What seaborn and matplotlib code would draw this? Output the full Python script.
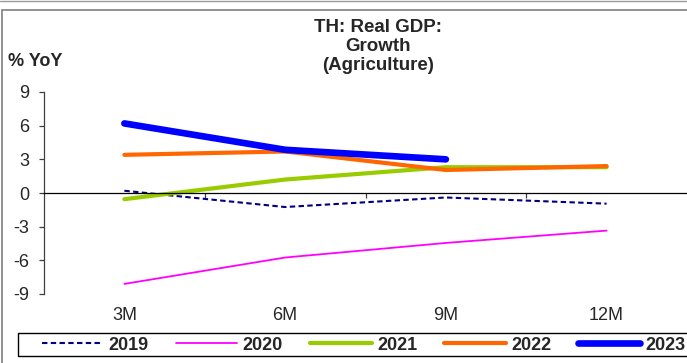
import numpy as np
import pandas as pd
import seaborn as sns
import matplotlib.pyplot as plt
from matplotlib.patches import Rectangle
from matplotlib.lines import Line2D
import matplotlib.transforms as mtransforms

# data
periods = ["3M", "6M", "9M", "12M"]
years = ["2019", "2020", "2021", "2022", "2023"]
g2019 = [0.2, -1.25, -0.4, -0.95]
g2020 = [-8.1, -5.75, -4.45, -3.35]
g2021 = [-0.55, 1.2, 2.3, 2.3]
g2022 = [3.4, 3.7, 2.05, 2.4]
g2023 = [6.2, 3.85, 3.0]
y_ticks = [-9, -6, -3, 0, 3, 6, 9]

series = [g2019, g2020, g2021, g2022, g2023]
colors = ["#000080", "#FF00FF", "#99CC00", "#FF6600", "#0000FF"]
widths = [1.5, 1.3, 3.0, 3.0, 4.8]
styles = [(0, (2.6, 1.6)), "-", "-", "-", "-"]

sns.set_style("white")
plt.rcParams["font.family"] = ["Liberation Sans", "DejaVu Sans"]

W, H = 687, 363
fig = plt.figure(figsize=(W / 100, H / 100), dpi=100)
ax = fig.add_axes([44 / W, 1 - 294 / H, (W - 44) / W, (294 - 92) / H])

# one line per year
for yr, vals, c, lw, ls in zip(years, series, colors, widths, styles):
    df = pd.DataFrame({"x": np.arange(len(vals)), "y": vals})
    sns.lineplot(data=df, x="x", y="y", ax=ax, color=c, linewidth=lw,
                 linestyle=ls, legend=False, solid_capstyle="round",
                 dash_capstyle="butt")

ax.set_xlim(-0.5, len(periods) - 0.5)
ax.set_ylim(-9, 9)
ax.set_yticks(y_ticks)
ax.set_yticklabels([str(t) for t in y_ticks])
ax.set_xlabel("")
ax.set_ylabel("")

# category axis sits on zero, ticks between categories
ax.spines["bottom"].set_position(("data", 0))
ax.spines["bottom"].set_color("black")
ax.spines["bottom"].set_linewidth(0.9)
ax.spines["left"].set_color("#404040")
ax.spines["left"].set_linewidth(0.9)
ax.spines["top"].set_visible(False)
ax.spines["right"].set_visible(False)
ax.set_xticks(np.arange(len(periods) - 1) + 0.5)
ax.set_xticklabels([])
ax.tick_params(axis="x", bottom=True, direction="out", length=3.6,
               width=0.9, color="#404040")
ax.tick_params(axis="y", left=True, direction="out", length=3.6, width=0.9,
               color="#404040", labelsize=13, pad=7)
ax.grid(False)

# category labels at the bottom of the plot area
trans = mtransforms.blended_transform_factory(ax.transData, ax.transAxes)
for i, p in enumerate(periods):
    ax.text(i, -(316 - 294) / (294 - 92), p, transform=trans, ha="center",
            va="center", fontsize=13)

fig.text(378 / W, 1 - 46.5 / H, "TH: Real GDP:\nGrowth\n(Agriculture)",
         ha="center", va="center", fontsize=13.5, fontweight="bold",
         linespacing=1.18)
fig.text(8 / W, 1 - 62 / H, "% YoY", ha="left", va="center", fontsize=13,
         fontweight="bold")

# legend box along the bottom
fig.patches.append(Rectangle((17.5 / W, 1 - 356 / H), (720 - 17.5) / W, 23 / H,
                             transform=fig.transFigure, fill=False,
                             edgecolor="black", linewidth=1.0))
handles = [Line2D([], [], color=c, linewidth=lw, linestyle=ls,
                  solid_capstyle="round")
           for c, lw, ls in zip(colors, widths, styles)]
fig.legend(handles, years, loc="center left", ncol=5,
           bbox_to_anchor=(42 / W, 1 - 345 / H), frameon=False,
           borderpad=0, borderaxespad=0, handlelength=3.4,
           handletextpad=0.3, columnspacing=1.5,
           prop={"size": 13, "weight": "bold"})

# outer frame of the chart object
fig.patches.append(Rectangle((1.5 / W, -0.1), 1.2, 1 - 9.5 / H + 0.1,
                             transform=fig.transFigure, fill=False,
                             edgecolor="#7f7f7f", linewidth=1.2))
fig.add_artist(Line2D([0, 1], [1 - 0.8 / H, 1 - 0.8 / H],
                      transform=fig.transFigure, color="#9a9a9a",
                      linewidth=1.0))

fig.savefig("out.png", dpi=100)
